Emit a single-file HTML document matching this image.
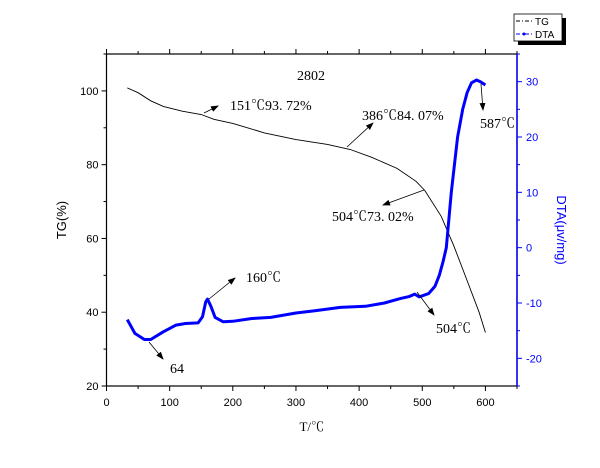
<!DOCTYPE html>
<html><head><meta charset="utf-8"><style>
body{margin:0;background:#fff;width:600px;height:463px;overflow:hidden}
svg text{font-family:"Liberation Sans",sans-serif}
.ser{font-family:"Liberation Serif","Noto Serif CJK SC",serif}
</style></head><body>
<svg id="chart" width="600" height="463" xmlns="http://www.w3.org/2000/svg">
<defs><marker id="ah" markerWidth="8" markerHeight="6" refX="7" refY="3" orient="auto" markerUnits="userSpaceOnUse"><path d="M0,0L8,3L0,6z" fill="#000"/></marker></defs>
<g id="axes"></g><g id="marks"></g><g id="ann"></g>
<g>
<rect x="518" y="18" width="48" height="27" fill="#000"/>
<rect x="514" y="14" width="48" height="27" fill="#fff" stroke="#000" stroke-width="0.8"/>
<line x1="516" y1="21" x2="532" y2="21" stroke="#000" stroke-dasharray="4,2,1,2"/>
<text x="535" y="25" font-size="10">TG</text>
<line x1="516" y1="34" x2="532" y2="34" stroke="#00f" stroke-dasharray="4,2,1,2"/>
<circle cx="524" cy="34" r="1.5" fill="#00f"/>
<text x="535" y="38" font-size="10">DTA</text>
</g>
</svg>
<script>
const xTicks=[0,100,200,300,400,500,600];
const tgTicks=[20,40,60,80,100];
const dtaTicks=[-20,-10,0,10,20,30];
const tgT=[33,50,70,90,120,150,170,200,250,300,350,386,420,460,490,504,530,550,570,590,600];
const tgV=[100.8,99.5,97.3,95.8,94.5,93.6,92.3,91.2,88.6,86.8,85.5,84.1,82,79,75.5,73,66,58,49,40,34.5];
const dtaT=[33,45,60,70,90,110,125,145,152,157,160,165,172,185,200,230,260,300,330,370,410,440,465,480,488,495,510,520,527,533,538,546,556,564,571,578,586,592,600];
const dtaV=[-13,-15.5,-16.6,-16.6,-15.2,-14,-13.7,-13.6,-12.5,-9.8,-9.3,-10.5,-12.6,-13.4,-13.3,-12.8,-12.6,-11.8,-11.4,-10.8,-10.6,-10,-9.2,-8.8,-8.4,-8.9,-8.3,-7,-5,-2.5,0,10,20,25,28,29.8,30.3,30,29.4];
const L=106.5,R=517,T=54,B=386;
const X=v=>L+(v-0)/650*(R-L);
const Y1=v=>B-(v-20)/90*(B-T);
const Y2=v=>B-(v+25)/60*(B-T);
const NS='http://www.w3.org/2000/svg';
function mk(p,tag,a,txt){const e=document.createElementNS(NS,tag);for(const k in a)e.setAttribute(k,a[k]);if(txt!=null)e.textContent=txt;p.appendChild(e);return e;}
const ax=document.getElementById('axes'),mg=document.getElementById('marks');
let e;
e=mk(ax,'rect',{x:L,y:T,width:R-L,height:B-T,fill:'none',stroke:'#000','stroke-width':1.2});

e=mk(ax,'line',{x1:R,y1:T,x2:R,y2:B,stroke:'#00f','stroke-width':1.5});

for(let v=0;v<=650;v+=50){const x=X(v),len=v%100===0?5:3;
 mk(ax,'line',{x1:x,y1:B,x2:x,y2:B+len,stroke:'#000'});mk(ax,'line',{x1:x,y1:T,x2:x,y2:T-len,stroke:'#000'});}
xTicks.forEach(v=>{e=mk(ax,'text',{x:X(v),y:B+20,'font-size':11,'text-anchor':'middle'},v);
 });
for(let v=20;v<=110;v+=10){const y=Y1(v);mk(ax,'line',{x1:L,y1:y,x2:L-(v%20===0?5:3),y2:y,stroke:'#000'});}
tgTicks.forEach(v=>{e=mk(ax,'text',{x:L-8,y:Y1(v)+4,'font-size':11,'text-anchor':'end'},v);
 });
for(let v=-25;v<=35;v+=5){const y=Y2(v);mk(ax,'line',{x1:R,y1:y,x2:R+(v%10===0?5:3),y2:y,stroke:'#00f'});}
dtaTicks.forEach(v=>{e=mk(ax,'text',{x:R+9,y:Y2(v)+4,'font-size':11,fill:'#00f'},v);
 });
e=mk(ax,'text',{x:X(325),y:431,'font-size':13,'text-anchor':'middle',class:'ser'},'T/℃');

e=mk(ax,'text',{x:0,y:0,'font-size':13,'text-anchor':'middle',transform:'translate(66,220) rotate(-90)'},'TG(%)');

e=mk(ax,'text',{x:0,y:0,'font-size':13,'text-anchor':'middle',fill:'#00f',transform:'translate(557,230) rotate(90)'},'DTA(μv/mg)');

e=mk(mg,'path',{d:tgT.map((t,i)=>(i?'L':'M')+X(t).toFixed(1)+','+Y1(tgV[i]).toFixed(1)).join(''),fill:'none',stroke:'#000','stroke-width':0.9});

e=mk(mg,'path',{d:dtaT.map((t,i)=>(i?'L':'M')+X(t).toFixed(1)+','+Y2(dtaV[i]).toFixed(1)).join(''),fill:'none',stroke:'#00f','stroke-width':3,'stroke-linejoin':'round'});

const an=document.getElementById('ann');
const arrows=[[204,113,218,106],[347,147,373,123],[424,190,383,205],[209,299,235,278],[417,292,434,315],[481,84,483,110],[149,342,163,359]];
arrows.forEach(a=>{e=mk(an,'line',{x1:a[0],y1:a[1],x2:a[2],y2:a[3],stroke:'#000','stroke-width':0.8,'marker-end':'url(#ah)'});
 });
const labs=[[297,80,'2802'],[230,110,'151℃93. 72%'],[362,120,'386℃84. 07%'],[332,221,'504℃73. 02%'],[246,282,'160℃'],[436,333,'504℃'],[480,128,'587℃'],[170,373,'64']];
labs.forEach(l=>{e=mk(an,'text',{x:l[0],y:l[1],'font-size':14,class:'ser'},l[2]);
 });
</script>
</body></html>
